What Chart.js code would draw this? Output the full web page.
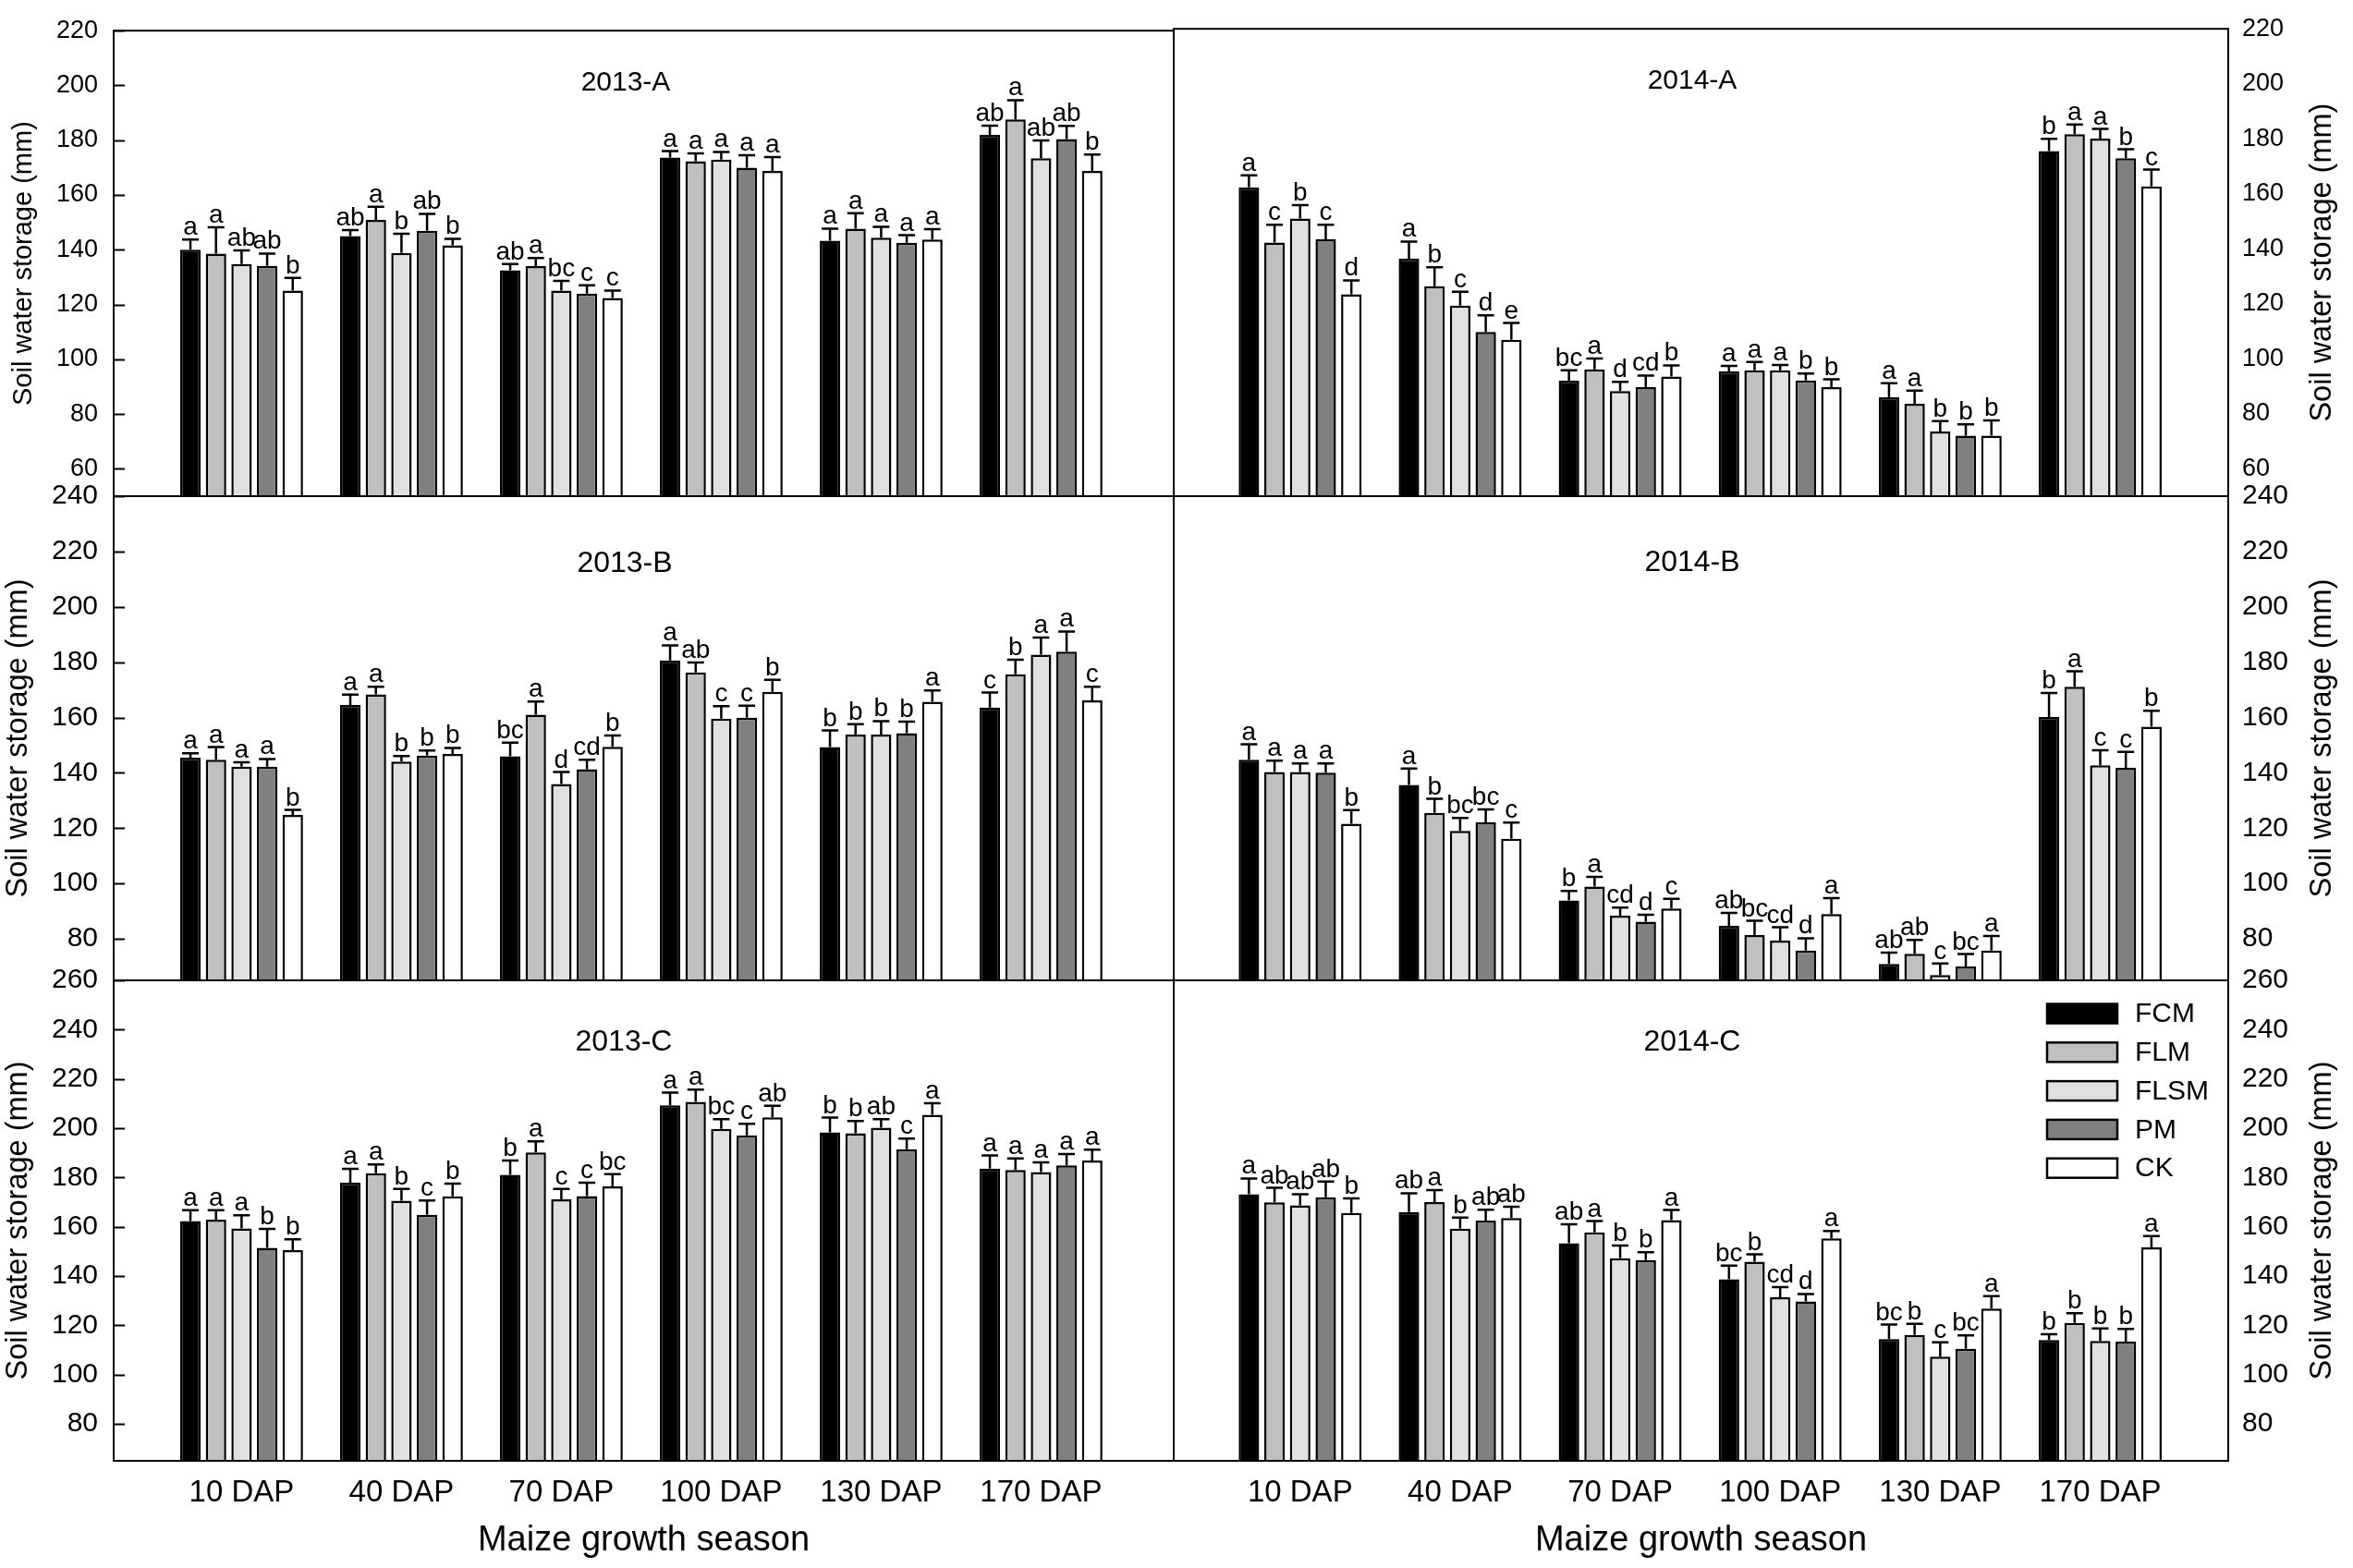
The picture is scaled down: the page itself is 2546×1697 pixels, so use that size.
<!DOCTYPE html>
<html>
<head>
<meta charset="utf-8">
<title>Soil water storage</title>
<script src="https://cdn.jsdelivr.net/npm/chart.js@4.4.1/dist/chart.umd.min.js"></script>
<style>
  html, body { margin: 0; padding: 0; background: #ffffff; }
  #wrap { position: relative; width: 2546px; height: 1697px; overflow: hidden; }
  #wrap canvas { position: absolute; left: 0; top: 0; }
</style>
</head>
<body>
<div id="wrap">
  <canvas id="p2013A" width="2546" height="1697"></canvas>
  <canvas id="p2014A" width="2546" height="1697"></canvas>
  <canvas id="p2013B" width="2546" height="1697"></canvas>
  <canvas id="p2014B" width="2546" height="1697"></canvas>
  <canvas id="p2013C" width="2546" height="1697"></canvas>
  <canvas id="p2014C" width="2546" height="1697"></canvas>
</div>
<script>
// ---- data ----
const stages = ['10 DAP', '40 DAP', '70 DAP', '100 DAP', '130 DAP', '170 DAP'];
const treatments = ['FCM', 'FLM', 'FLSM', 'PM', 'CK'];

// y tick labels for each row of panels
const ticksRowA = [60, 80, 100, 120, 140, 160, 180, 200, 220];
const ticksRowB = [80, 100, 120, 140, 160, 180, 200, 220, 240];
const ticksRowC = [80, 100, 120, 140, 160, 180, 200, 220, 240, 260];

// one row per treatment (FCM, FLM, FLSM, PM, CK), one column per stage
const mean2013A = [
  [140.0, 145.0, 132.5, 173.7, 143.3, 181.9],
  [138.6, 150.9, 134.0, 172.3, 147.7, 187.6],
  [134.8, 138.8, 125.1, 172.9, 144.4, 173.4],
  [134.1, 146.9, 124.0, 170.0, 142.5, 180.4],
  [125.1, 141.6, 122.4, 168.8, 143.7, 168.8]
];
const se2013A = [
  [3.7, 2.2, 2.3, 2.3, 4.4, 3.4],
  [9.6, 4.8, 3.0, 2.9, 5.6, 7.0],
  [5.0, 7.0, 3.5, 2.8, 4.0, 6.5],
  [4.5, 6.2, 3.0, 4.5, 2.8, 4.8],
  [4.6, 2.4, 2.7, 5.0, 3.8, 6.0]
];
const sig2013A = [
  ['a', 'ab', 'ab', 'a', 'a', 'ab'],
  ['a', 'a', 'a', 'a', 'a', 'a'],
  ['ab', 'b', 'bc', 'a', 'a', 'ab'],
  ['ab', 'ab', 'c', 'a', 'a', 'ab'],
  ['b', 'b', 'c', 'a', 'a', 'b']
];

const mean2014A = [
  [162.3, 136.4, 92.0, 95.4, 86.0, 175.5],
  [142.3, 126.4, 96.1, 95.8, 83.6, 181.7],
  [151.0, 119.3, 88.2, 95.8, 73.5, 180.1],
  [143.4, 109.7, 89.7, 92.1, 72.0, 172.9],
  [123.4, 106.9, 93.5, 89.7, 72.0, 162.7]
];
const se2014A = [
  [4.4, 6.2, 3.8, 2.0, 5.1, 4.5],
  [6.4, 6.9, 4.0, 3.0, 4.8, 3.5],
  [4.9, 5.1, 3.4, 1.9, 3.8, 3.5],
  [5.3, 6.1, 4.2, 2.5, 4.1, 3.3],
  [5.1, 6.1, 4.1, 2.8, 5.6, 6.1]
];
const sig2014A = [
  ['a', 'a', 'bc', 'a', 'a', 'b'],
  ['c', 'b', 'a', 'a', 'a', 'a'],
  ['b', 'c', 'd', 'a', 'b', 'a'],
  ['c', 'd', 'cd', 'b', 'b', 'b'],
  ['d', 'e', 'b', 'b', 'b', 'c']
];

const mean2013B = [
  [145.5, 164.5, 146.0, 180.6, 149.3, 163.6],
  [144.7, 168.4, 161.0, 176.3, 153.8, 175.6],
  [142.2, 144.1, 136.0, 159.6, 153.8, 182.7],
  [142.2, 146.2, 141.3, 159.9, 154.3, 183.8],
  [124.8, 146.8, 149.4, 169.3, 165.7, 166.2]
];
const se2013B = [
  [1.6, 3.8, 4.9, 5.5, 6.0, 5.4],
  [4.6, 2.7, 4.8, 3.6, 3.8, 5.3],
  [1.6, 2.0, 4.3, 4.5, 4.9, 6.2],
  [2.8, 1.9, 3.4, 4.4, 4.2, 7.3],
  [1.8, 2.2, 4.1, 4.3, 4.1, 4.9]
];
const sig2013B = [
  ['a', 'a', 'bc', 'a', 'b', 'c'],
  ['a', 'a', 'a', 'ab', 'b', 'b'],
  ['a', 'b', 'd', 'c', 'b', 'a'],
  ['a', 'b', 'cd', 'c', 'b', 'a'],
  ['b', 'b', 'b', 'b', 'a', 'c']
];

const mean2014B = [
  [144.7, 135.6, 93.9, 84.7, 70.9, 160.2],
  [140.3, 125.5, 98.9, 81.4, 74.6, 171.1],
  [140.3, 119.0, 88.4, 79.4, 66.9, 142.7],
  [140.1, 122.1, 86.2, 75.8, 70.0, 141.8],
  [121.6, 116.2, 91.0, 89.0, 75.8, 156.7]
];
const se2014B = [
  [5.6, 6.0, 3.4, 4.7, 4.1, 8.7],
  [4.1, 5.1, 3.5, 5.1, 5.0, 5.6],
  [3.1, 4.7, 2.9, 4.8, 4.2, 5.5],
  [3.3, 4.7, 2.5, 4.4, 4.5, 5.8],
  [4.9, 5.8, 3.5, 5.7, 5.2, 5.7]
];
const sig2014B = [
  ['a', 'a', 'b', 'ab', 'ab', 'b'],
  ['a', 'b', 'a', 'bc', 'ab', 'a'],
  ['a', 'bc', 'cd', 'cd', 'c', 'c'],
  ['a', 'bc', 'd', 'd', 'bc', 'c'],
  ['b', 'c', 'c', 'a', 'a', 'b']
];

const mean2013C = [
  [162.3, 177.9, 181.1, 209.3, 198.3, 183.6],
  [162.9, 181.7, 190.2, 210.7, 197.9, 183.0],
  [159.3, 170.6, 171.1, 199.7, 200.2, 182.2],
  [151.4, 164.8, 172.4, 197.1, 191.5, 184.9],
  [150.5, 172.3, 176.4, 204.4, 205.4, 186.9]
];
const se2013C = [
  [4.4, 5.6, 5.8, 5.1, 6.0, 5.3],
  [3.8, 3.6, 4.5, 5.0, 5.0, 4.7],
  [5.4, 4.7, 4.2, 4.0, 3.5, 3.9],
  [7.7, 5.9, 5.5, 4.7, 4.3, 4.6],
  [4.4, 5.2, 4.9, 4.7, 4.7, 4.4]
];
const sig2013C = [
  ['a', 'a', 'b', 'a', 'b', 'a'],
  ['a', 'a', 'a', 'a', 'b', 'a'],
  ['a', 'b', 'c', 'bc', 'ab', 'a'],
  ['b', 'c', 'c', 'c', 'c', 'a'],
  ['b', 'b', 'bc', 'ab', 'a', 'a']
];

const mean2014C = [
  [173.2, 166.0, 153.3, 138.7, 114.4, 114.0],
  [169.9, 170.0, 157.7, 145.8, 116.1, 121.0],
  [168.7, 159.2, 147.2, 131.4, 107.3, 113.7],
  [172.0, 162.5, 146.5, 129.7, 110.5, 113.4],
  [165.6, 163.5, 162.7, 155.3, 126.8, 151.6]
];
const se2014C = [
  [6.4, 7.6, 7.7, 5.5, 5.9, 2.4],
  [5.9, 4.9, 4.6, 3.0, 4.5, 3.9],
  [4.5, 4.5, 5.2, 4.1, 5.8, 5.0],
  [6.3, 4.4, 3.2, 3.0, 5.4, 5.1],
  [5.9, 4.6, 4.1, 3.0, 5.0, 4.6]
];
const sig2014C = [
  ['a', 'ab', 'ab', 'bc', 'bc', 'b'],
  ['ab', 'a', 'a', 'b', 'b', 'b'],
  ['ab', 'b', 'b', 'cd', 'c', 'b'],
  ['ab', 'ab', 'b', 'd', 'bc', 'b'],
  ['b', 'ab', 'a', 'a', 'a', 'a']
];

// ---- styling ----
const FONT = "'Liberation Sans', Arial, sans-serif";
Chart.defaults.font.family = FONT;
Chart.defaults.color = '#000000';

const fills = ['#000000', '#c0c0c0', '#e0e0e0', '#808080', '#ffffff'];

const PAGE_W = 2546, PAGE_H = 1697;
const colEdges = [[123, 1270], [1270, 2411]];
const colRange = [[-0.80, 5.83], [-0.79, 5.80]];
const rowEdges = [[17, 537], [537, 1061], [1061, 1581]];

// box round the plot area, plus inward tick marks on the left axes
const framePlugin = {
  id: 'frame',
  afterDraw(chart) {
    const { ctx, chartArea: a } = chart;
    const y = chart.scales.y;
    ctx.save();
    ctx.strokeStyle = '#000';
    ctx.lineWidth = 2;
    ctx.strokeRect(a.left, a.top, a.right - a.left, a.bottom - a.top);
    if (y.options.position === 'left') {
      y.ticks.forEach(t => {
        const py = Math.round(y.getPixelForValue(t.value)) + 0.5;
        ctx.beginPath();
        ctx.moveTo(a.left, py);
        ctx.lineTo(a.left + 12, py);
        ctx.stroke();
      });
    }
    ctx.restore();
  }
};

// upper error bars and significance letters
const errorPlugin = {
  id: 'errorLetters',
  afterDatasetsDraw(chart) {
    const { ctx } = chart;
    const y = chart.scales.y;
    ctx.save();
    ctx.strokeStyle = '#000';
    ctx.fillStyle = '#000';
    ctx.lineWidth = 2.5;
    ctx.font = '28px ' + FONT;
    ctx.textAlign = 'center';
    ctx.textBaseline = 'alphabetic';
    chart.data.datasets.forEach((ds, d) => {
      chart.getDatasetMeta(d).data.forEach((bar, i) => {
        const top = y.getPixelForValue(ds.data[i].y + ds.se[i]);
        ctx.beginPath();
        ctx.moveTo(bar.x, bar.y);
        ctx.lineTo(bar.x, top);
        ctx.moveTo(bar.x - 9, top);
        ctx.lineTo(bar.x + 9, top);
        ctx.stroke();
        ctx.fillText(ds.sig[i], bar.x, top - 5);
      });
    });
    ctx.restore();
  }
};

// "2013-A" style label inside each panel
const titlePlugin = {
  id: 'panelTitle',
  afterDraw(chart, args, opts) {
    const { ctx } = chart;
    ctx.save();
    ctx.fillStyle = '#000';
    ctx.font = opts.size + 'px ' + FONT;
    ctx.textAlign = 'center';
    ctx.textBaseline = 'middle';
    ctx.fillText(opts.text, opts.x, opts.y);
    ctx.restore();
  }
};

// right-hand axis title, read bottom to top like the left one
const sideTitlePlugin = {
  id: 'sideTitle',
  afterDraw(chart, args, opts) {
    if (!opts.show) return;
    const { ctx, chartArea: a } = chart;
    ctx.save();
    ctx.fillStyle = '#000';
    ctx.font = opts.size + 'px ' + FONT;
    ctx.textAlign = 'center';
    ctx.textBaseline = 'middle';
    ctx.translate(opts.x, (a.top + a.bottom) / 2);
    ctx.rotate(-Math.PI / 2);
    ctx.fillText(opts.text, 0, 0);
    ctx.restore();
  }
};

// boxed legend swatches, drawn inside 2014-C
const legendPlugin = {
  id: 'boxLegend',
  afterDraw(chart, args, opts) {
    if (!opts.show) return;
    const { ctx } = chart;
    ctx.save();
    ctx.font = '30px ' + FONT;
    ctx.textAlign = 'left';
    ctx.textBaseline = 'middle';
    chart.data.datasets.forEach((ds, k) => {
      const cy = opts.y + k * opts.step;
      ctx.fillStyle = ds.backgroundColor;
      ctx.fillRect(opts.x, cy - 10.5, 76, 21);
      ctx.strokeStyle = '#000';
      ctx.lineWidth = 2.5;
      ctx.strokeRect(opts.x, cy - 10.5, 76, 21);
      ctx.fillStyle = '#000';
      ctx.fillText(ds.label, opts.x + 95, cy + 1);
    });
    ctx.restore();
  }
};

function makePanel(id, p) {
  const [left, right] = colEdges[p.col];
  const [top, bottom] = rowEdges[p.row];
  const isLeft = p.col === 0;
  const isBottom = p.row === 2;
  const axisW = isLeft ? left : PAGE_W - right;
  const xAxisH = isBottom ? PAGE_H - bottom : 0;
  const yTitle = 'Soil water storage (mm)';

  return new Chart(document.getElementById(id), {
    type: 'bar',
    data: {
      datasets: treatments.map((name, s) => ({
        label: name,
        data: p.mean[s].map((v, i) => ({ x: i, y: v })),
        se: p.se[s],
        sig: p.sig[s],
        backgroundColor: fills[s],
        borderColor: '#000000',
        borderWidth: 2.5,
        categoryPercentage: 0.8,
        barPercentage: 0.8
      }))
    },
    options: {
      responsive: false,
      animation: false,
      devicePixelRatio: 1,
      events: [],
      layout: {
        padding: {
          left: isLeft ? 0 : left,
          right: isLeft ? PAGE_W - right : 0,
          top: top,
          bottom: PAGE_H - bottom - xAxisH
        }
      },
      plugins: {
        legend: { display: false },
        tooltip: { enabled: false },
        panelTitle: { text: p.title, x: p.titleX, y: p.titleY, size: p.titleSize },
        sideTitle: { show: !isLeft, text: yTitle, x: 2513, size: p.axisTitleSize },
        boxLegend: { show: !!p.legend, x: 2215, y: 1097, step: 41.8 }
      },
      scales: {
        x: {
          type: 'linear',
          offset: false,
          min: colRange[p.col][0],
          max: colRange[p.col][1],
          display: isBottom,
          grid: { display: false, drawTicks: false },
          border: { display: false },
          ticks: {
            autoSkip: false,
            maxRotation: 0,
            padding: 15,
            font: { size: 33 },
            callback: v => stages[v] ?? ''
          },
          title: {
            display: isBottom,
            text: 'Maize growth season',
            font: { size: 38 },
            padding: { top: 0, bottom: 7 }
          },
          afterBuildTicks: s => { s.ticks = stages.map((_, i) => ({ value: i })); },
          afterFit: s => { s.height = xAxisH; }
        },
        y: {
          position: isLeft ? 'left' : 'right',
          min: p.yMin,
          max: p.yMax,
          grid: { display: false, drawTicks: false },
          border: { display: false },
          ticks: {
            autoSkip: false,
            padding: isLeft ? 17 : 15,
            font: { size: p.tickSize }
          },
          title: {
            display: isLeft,
            text: yTitle,
            font: { size: p.axisTitleSize },
            padding: { top: p.axisTitlePad, bottom: 0 }
          },
          afterBuildTicks: s => { s.ticks = p.yTicks.map(v => ({ value: v })); },
          afterFit: s => { s.width = axisW; }
        }
      }
    },
    plugins: [errorPlugin, framePlugin, titlePlugin, sideTitlePlugin, legendPlugin]
  });
}

makePanel('p2013A', {
  col: 0, row: 0, mean: mean2013A, se: se2013A, sig: sig2013A,
  yMin: 50, yMax: 220, yTicks: ticksRowA, tickSize: 27,
  axisTitleSize: 29, axisTitlePad: 8.5,
  title: '2013-A', titleX: 677, titleY: 90, titleSize: 30
});
makePanel('p2014A', {
  col: 1, row: 0, mean: mean2014A, se: se2014A, sig: sig2014A,
  yMin: 50, yMax: 220, yTicks: ticksRowA, tickSize: 27,
  axisTitleSize: 32.5,
  title: '2014-A', titleX: 1831, titleY: 88, titleSize: 30
});
makePanel('p2013B', {
  col: 0, row: 1, mean: mean2013B, se: se2013B, sig: sig2013B,
  yMin: 65, yMax: 240, yTicks: ticksRowB, tickSize: 30,
  axisTitleSize: 32.5, axisTitlePad: 0.5,
  title: '2013-B', titleX: 676, titleY: 610, titleSize: 32
});
makePanel('p2014B', {
  col: 1, row: 1, mean: mean2014B, se: se2014B, sig: sig2014B,
  yMin: 65, yMax: 240, yTicks: ticksRowB, tickSize: 30,
  axisTitleSize: 32.5,
  title: '2014-B', titleX: 1831, titleY: 609, titleSize: 32
});
makePanel('p2013C', {
  col: 0, row: 2, mean: mean2013C, se: se2013C, sig: sig2013C,
  yMin: 65, yMax: 260, yTicks: ticksRowC, tickSize: 30,
  axisTitleSize: 32.5, axisTitlePad: 0.5,
  title: '2013-C', titleX: 675, titleY: 1128, titleSize: 32
});
makePanel('p2014C', {
  col: 1, row: 2, mean: mean2014C, se: se2014C, sig: sig2014C,
  yMin: 65, yMax: 260, yTicks: ticksRowC, tickSize: 30,
  axisTitleSize: 32.5,
  title: '2014-C', titleX: 1831, titleY: 1128, titleSize: 32,
  legend: true
});
</script>
</body>
</html>
